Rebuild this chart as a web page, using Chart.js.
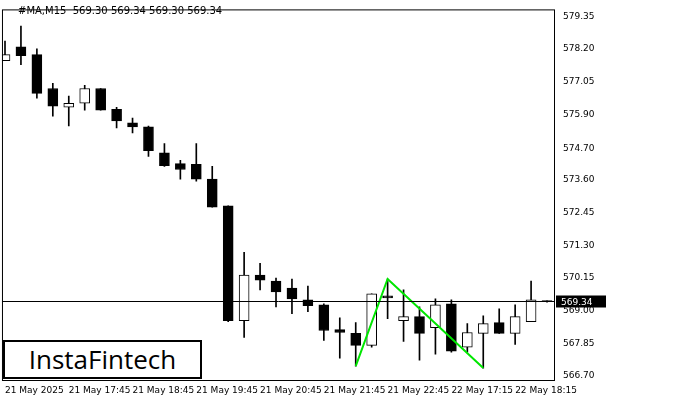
<!DOCTYPE html>
<html><head><meta charset="utf-8">
<script src="https://cdn.jsdelivr.net/npm/chart.js@4"></script>
<style>body{margin:0;background:#fff}#w{position:relative;width:700px;height:400px}
#logo{position:absolute;left:3px;top:340px;width:195px;height:35px;border:2px solid #000;background:#fff;font:26px "Open Sans",sans-serif;line-height:35px;text-align:center;color:#000}
#t{position:absolute;left:18px;top:5px;font:10px "DejaVu Sans",sans-serif;color:#000}</style></head>
<body><div id="w"><canvas id="c" width="700" height="400"></canvas><div id="t">#MA,M15&nbsp; 569.30 569.34 569.30 569.34</div><div id="logo">InstaFintech</div></div>
<script>
const opens=[577.79,578.27,578.00,576.81,576.15,576.29,576.81,576.08,575.60,575.46,574.55,574.17,574.14,573.62,572.68,568.65,570.25,570.04,569.79,569.38,569.20,568.33,568.20,567.78,569.52,568.65,568.79,568.40,569.24,567.71,568.20,568.58,568.20,568.61,569.31];
const highs=[578.48,579.00,578.20,576.99,576.54,576.92,576.81,576.15,575.77,575.49,574.87,574.28,574.87,574.07,572.68,571.05,570.66,570.14,570.11,569.86,569.24,568.75,568.58,569.59,570.11,569.73,569.13,569.41,569.38,568.54,568.82,569.06,569.20,570.04,569.34];
const lows=[577.79,577.65,576.47,575.84,575.49,576.05,576.05,575.42,575.25,574.42,574.07,573.62,573.55,572.64,568.61,568.06,569.73,569.13,568.89,568.96,567.95,567.33,567.05,567.71,568.72,567.92,567.26,567.47,567.54,567.54,566.98,568.20,567.81,568.61,569.30];
const closes=[578.00,577.96,576.64,576.19,576.29,576.81,576.05,575.67,575.46,574.62,574.10,573.96,573.62,572.64,568.65,570.25,570.07,569.66,569.41,569.17,568.30,568.23,567.78,569.59,569.45,568.79,568.20,569.20,567.57,568.23,568.54,568.20,568.79,569.38,569.34];
const timeLabels=["21 May 2025","21 May 17:45","21 May 18:45","21 May 19:45","21 May 20:45","21 May 21:45","21 May 22:45","22 May 17:15","22 May 18:15"];
const yTicks=[579.35,578.20,577.05,575.90,574.70,573.60,572.45,571.30,570.15,569.00,567.85,566.70];
const patternX=[22,24,30];
const patternY=[567.05,570.11,566.98];
const lastPrice=569.34;

const wick=opens.map((o,i)=>({x:i,y:[lows[i],highs[i]]}));
const body=opens.map((o,i)=>{let a=Math.min(o,closes[i]),b=Math.max(o,closes[i]);if(b-a<0.04){b=a+0.04;}return {x:i,y:[a,b]};});
const fills=opens.map((o,i)=>closes[i]>o?'#fff':'#000');

const overlay={id:'ov',afterDatasetsDraw(ch){const c=ch.ctx,a=ch.chartArea,y=ch.scales.y;
 c.save();c.strokeStyle='#000';c.lineWidth=1;
 const py=Math.round(y.getPixelForValue(lastPrice))+0.5;
 c.beginPath();c.moveTo(a.left,py);c.lineTo(a.right,py);c.stroke();
 c.strokeRect(a.left+0.5,a.top+0.5,a.right-a.left-1,a.bottom-a.top);
 c.fillStyle='#000';c.fillRect(a.right+1,py-6,50,12);
 c.fillStyle='#fff';c.font='9px "DejaVu Sans"';c.textBaseline='middle';c.fillText(lastPrice.toFixed(2),a.right+6,py+1);
 c.restore();}};

new Chart(document.getElementById('c'),{
 data:{datasets:[
  {type:'line',data:patternX.map((x,i)=>({x,y:patternY[i]})),borderColor:'#00e600',borderWidth:2,pointRadius:0,order:0},
  {type:'bar',data:body,backgroundColor:fills,borderColor:'#000',borderWidth:1,borderSkipped:false,barThickness:10,grouped:false,order:1},
  {type:'bar',data:wick,backgroundColor:'#000',barThickness:1,grouped:false,order:2}
 ]},
 options:{animation:false,responsive:false,events:[],
  layout:{padding:{top:5,left:0,right:0,bottom:0}},
  plugins:{legend:{display:false},tooltip:{enabled:false}},
  scales:{
   x:{type:'linear',offset:false,min:-0.19,max:34.5,grid:{display:false,drawTicks:false},border:{display:false},
    afterBuildTicks(s){s.ticks=timeLabels.map((l,i)=>({value:i*4}));},
    afterFit(s){s.height=20;},
    ticks:{autoSkip:false,maxRotation:0,align:'start',padding:5,color:'#000',font:{size:9,family:'DejaVu Sans'},callback:(v)=>timeLabels[v/4]}},
   y:{position:'right',min:566.56,max:579.59,grid:{display:false,drawTicks:true,tickLength:4,tickColor:'#000'},border:{display:false},
    afterBuildTicks(s){s.ticks=yTicks.map(v=>({value:v}));},
    afterFit(s){s.width=145;},
    ticks:{color:'#000',padding:4,font:{size:9,family:'DejaVu Sans'},callback:v=>v.toFixed(2)}}
  }},
 plugins:[overlay]});
</script></body></html>
